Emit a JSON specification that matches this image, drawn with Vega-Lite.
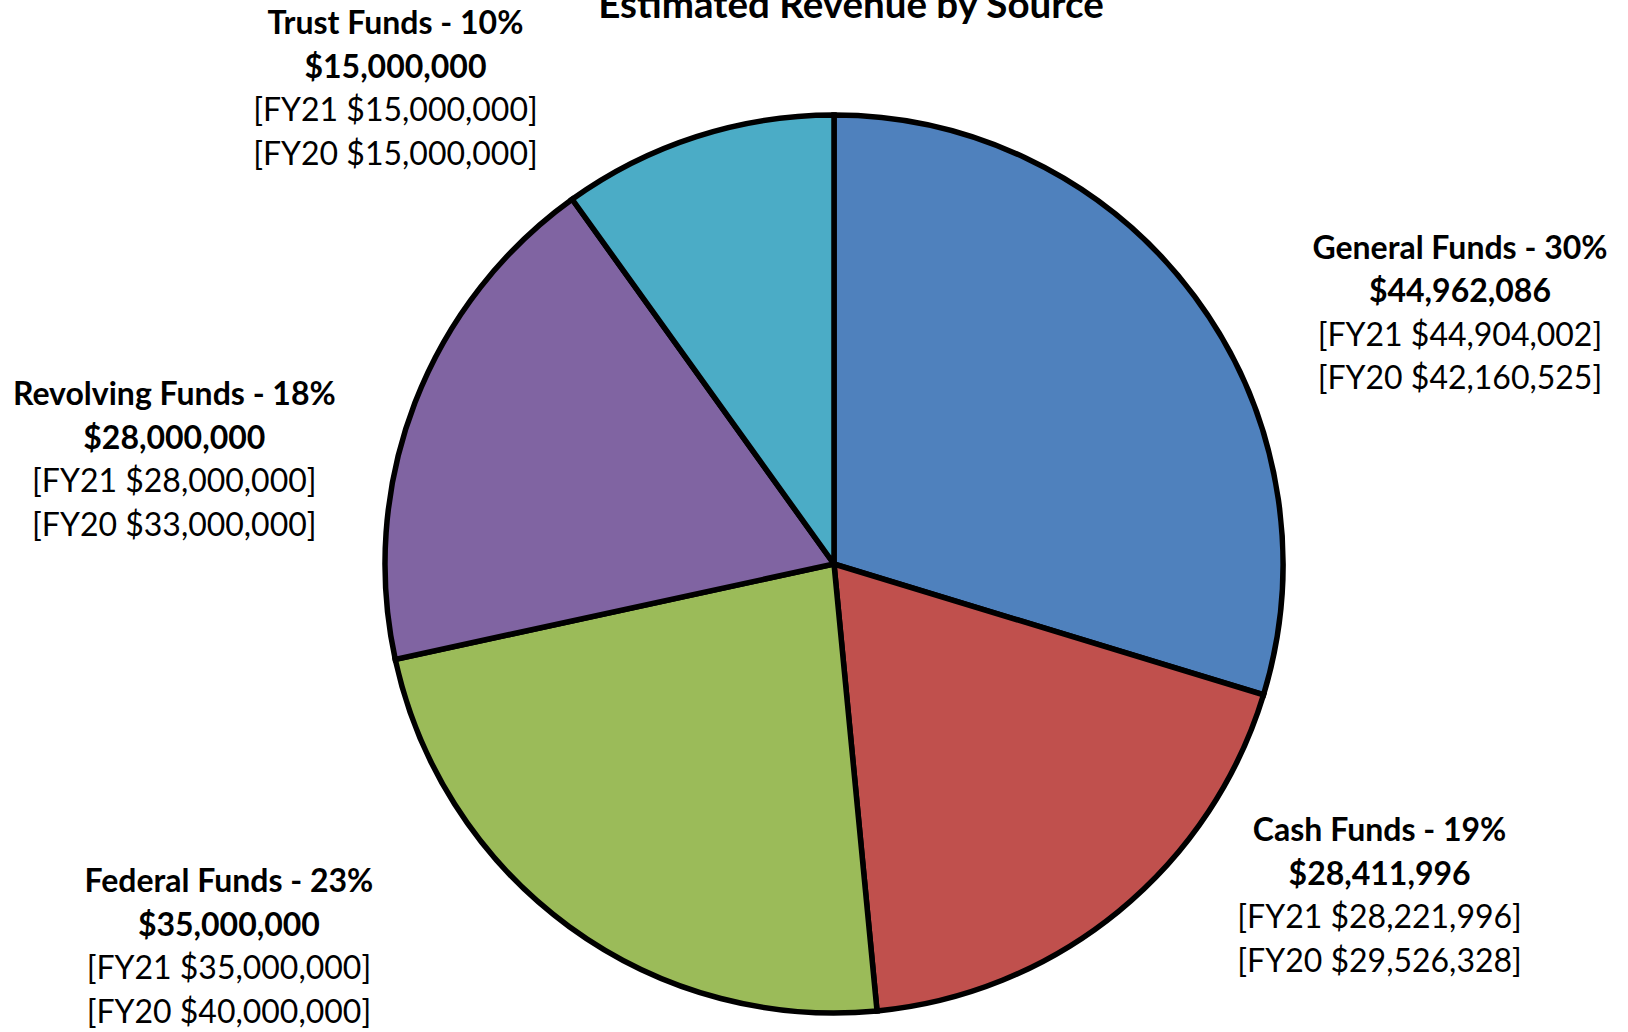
{
  "$schema": "https://vega.github.io/schema/vega-lite/v6.json",
  "autosize": {"type": "none"},
  "width": 1588,
  "height": 928,
  "padding": {"left": 40, "top": 100, "right": 0, "bottom": 4},
  "background": "white",
  "view": {"stroke": null},
  "title": {
    "text": "Estimated Revenue by Source",
    "font": "Lato",
    "fontSize": 38.5,
    "fontWeight": "bold",
    "color": "black",
    "anchor": "middle",
    "frame": "group",
    "baseline": "alphabetic",
    "offset": 0,
    "dx": 17,
    "dy": 49
  },
  "data": {
    "values": [
      {"source": "General Funds", "idx": 1, "amount": 44962086, "head": "General Funds - 30%\n$44,962,086", "prior": "[FY21 $44,904,002]\n[FY20 $42,160,525]"},
      {"source": "Cash Funds", "idx": 2, "amount": 28411996, "head": "Cash Funds - 19%\n$28,411,996", "prior": "[FY21 $28,221,996]\n[FY20 $29,526,328]"},
      {"source": "Federal Funds", "idx": 3, "amount": 35000000, "head": "Federal Funds - 23%\n$35,000,000", "prior": "[FY21 $35,000,000]\n[FY20 $40,000,000]"},
      {"source": "Revolving Funds", "idx": 4, "amount": 28000000, "head": "Revolving Funds - 18%\n$28,000,000", "prior": "[FY21 $28,000,000]\n[FY20 $33,000,000]"},
      {"source": "Trust Funds", "idx": 5, "amount": 15000000, "head": "Trust Funds  - 10%\n$15,000,000", "prior": "[FY21 $15,000,000]\n[FY20 $15,000,000]"}
    ]
  },
  "encoding": {
    "theta": {"field": "amount", "type": "quantitative", "stack": true},
    "order": {"field": "idx", "type": "quantitative", "sort": "ascending"}
  },
  "layer": [
    {
      "mark": {"type": "arc", "radius": 449, "stroke": "black", "strokeWidth": 5.5, "strokeJoin": "miter"},
      "encoding": {
        "color": {
          "field": "source",
          "type": "nominal",
          "scale": {
            "domain": ["General Funds", "Cash Funds", "Federal Funds", "Revolving Funds", "Trust Funds"],
            "range": ["#4F81BD", "#C0504D", "#9BBB59", "#8064A2", "#4BACC6"]
          },
          "legend": null
        }
      }
    },
    {
      "mark": {
        "type": "text",
        "radius": 560,
        "font": "Lato",
        "fontSize": 32,
        "fontWeight": "bold",
        "color": "black",
        "align": "center",
        "baseline": "alphabetic",
        "lineBreak": "\n",
        "lineHeight": 43.6,
        "dx": {"expr": "datum.source === 'General Funds' ? 176 : datum.source === 'Cash Funds' ? 191 : datum.source === 'Federal Funds' ? -275 : datum.source === 'Revolving Funds' ? -137 : -267"},
        "dy": {"expr": "datum.source === 'General Funds' ? 28 : datum.source === 'Cash Funds' ? -156 : datum.source === 'Federal Funds' ? -124 : datum.source === 'Revolving Funds' ? 42 : 3"}
      },
      "encoding": {"text": {"field": "head"}}
    },
    {
      "mark": {
        "type": "text",
        "radius": 560,
        "font": "Lato",
        "fontSize": 32,
        "fontWeight": "normal",
        "color": "black",
        "align": "center",
        "baseline": "alphabetic",
        "lineBreak": "\n",
        "lineHeight": 43.6,
        "dx": {"expr": "datum.source === 'General Funds' ? 176 : datum.source === 'Cash Funds' ? 191 : datum.source === 'Federal Funds' ? -275 : datum.source === 'Revolving Funds' ? -137 : -267"},
        "dy": {"expr": "datum.source === 'General Funds' ? 115 : datum.source === 'Cash Funds' ? -69 : datum.source === 'Federal Funds' ? -37 : datum.source === 'Revolving Funds' ? 129 : 90"}
      },
      "encoding": {"text": {"field": "prior"}}
    }
  ]
}
